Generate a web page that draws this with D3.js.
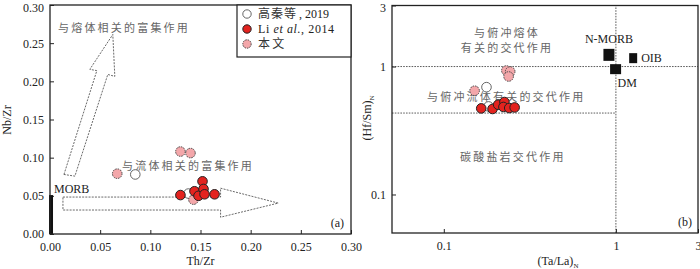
<!DOCTYPE html>
<html>
<head>
<meta charset="utf-8">
<script src="https://cdn.jsdelivr.net/npm/d3@7"></script>
<style>
  body { margin: 0; background: #fff; }
  svg { display: block; }
  .tick text { font-family: "Liberation Serif", serif; font-size: 12px; fill: #222; }
  .cn { font-family: "Noto Sans CJK SC", sans-serif; font-size: 11px; fill: #666; letter-spacing: 2.2px; }
  .lbl { font-family: "Liberation Serif", serif; font-size: 12px; fill: #222; }
</style>
</head>
<body>
<svg id="chart" width="700" height="269"></svg>
<script>
// ---- panel (a): Th/Zr vs Nb/Zr ----
const gaoA = [[0.085, 0.078], [0.138, 0.053]];
const liA = [[0.130, 0.051], [0.144, 0.056], [0.148, 0.050], [0.152, 0.069], [0.153, 0.059], [0.154, 0.052], [0.164, 0.052]];
const thisA = [[0.067, 0.079], [0.130, 0.108], [0.140, 0.106], [0.143, 0.045]];
const ticksA = [0, 0.05, 0.1, 0.15, 0.2, 0.25, 0.3];
const morbBar = [0, 0.003, 0, 0.051];
// arrow outlines in data units
const meltArrow = [[0.0139, 0.078], [0.0467, 0.214], [0.0397, 0.2157], [0.0626, 0.2614], [0.0646, 0.2065], [0.0576, 0.209], [0.0248, 0.0758]];
const fluidArrow = [[0.0129, 0.0484], [0.170, 0.0484], [0.170, 0.060], [0.2275, 0.0405], [0.170, 0.022], [0.170, 0.0314], [0.0129, 0.0314]];

// ---- panel (b): (Ta/La)N vs (Hf/Sm)N ----
const gaoB = [[0.177, 0.69], [0.182, 0.488]];
const liB = [[0.165, 0.471], [0.192, 0.466], [0.207, 0.503], [0.225, 0.528], [0.222, 0.483], [0.240, 0.474], [0.258, 0.479]];
const thisB = [[0.231, 0.931], [0.243, 0.914], [0.238, 0.836], [0.151, 0.647]];
const refNames = ["N-MORB", "OIB", "DM"];
const refB = [[0.911, 1.234], [1.26, 1.163], [0.996, 0.954]];
const ticksB = [0.1, 1, 3];
const fluidLimit = 0.433;

const svg = d3.select("#chart");
svg.append("rect").attr("width", 700).attr("height", 269).attr("fill", "#fff");

const xA = d3.scaleLinear().domain([0, 0.3]).range([50, 351]);
const yA = d3.scaleLinear().domain([0, 0.3]).range([234, 5]);
const xB = d3.scaleLog().domain([0.05, 3]).range([392, 698]);
const yB = d3.scaleLog().domain([0.05, 3]).range([233, 5.5]);

function frame(x, y) {
  const [x0, x1] = x.range(), [y0, y1] = y.range();
  svg.append("rect")
    .attr("x", x0).attr("y", y1)
    .attr("width", x1 - x0).attr("height", y0 - y1)
    .attr("fill", "none").attr("stroke", "#222").attr("stroke-width", 1.3);
}

function axes(x, y, ticks, fmtX, fmtY) {
  const gx = svg.append("g").attr("transform", `translate(0,${y.range()[0]})`)
    .call(d3.axisBottom(x).tickValues(ticks).tickFormat(fmtX).tickSizeInner(-4).tickSizeOuter(0).tickPadding(8));
  const gy = svg.append("g").attr("transform", `translate(${x.range()[0]},0)`)
    .call(d3.axisLeft(y).tickValues(ticks).tickFormat(fmtY).tickSizeInner(-4).tickSizeOuter(0).tickPadding(6));
  [gx, gy].forEach((g) => {
    g.select(".domain").remove();
    g.selectAll(".tick line").attr("stroke", "#222");
  });
  // keep the top label inside the picture
  gy.selectAll(".tick text").filter((d) => d === ticks[ticks.length - 1]).attr("dy", "0.5em");
}

function dots(data, x, y, kind) {
  const sel = svg.append("g").selectAll("circle").data(data).enter().append("circle")
    .attr("cx", (d) => x(d[0])).attr("cy", (d) => y(d[1])).attr("r", 4.8);
  styleDot(sel, kind);
}

function styleDot(sel, kind) {
  if (kind === "gao") sel.attr("fill", "#fff").attr("stroke", "#555").attr("stroke-width", 0.9);
  if (kind === "li") sel.attr("fill", "#e3231f").attr("stroke", "#222").attr("stroke-width", 1);
  if (kind === "this") sel.attr("fill", "#f3a7aa").attr("stroke", "#444").attr("stroke-width", 1).attr("stroke-dasharray", "1.5,1");
}

const line = d3.line();

// ===== panel (a) =====
axes(xA, yA, ticksA, d3.format(".2f"), d3.format(".2f"));

svg.append("path")
  .attr("d", line(meltArrow.map((d) => [xA(d[0]), yA(d[1])])) + "Z")
  .attr("fill", "none").attr("stroke", "#444").attr("stroke-width", 0.8).attr("stroke-dasharray", "2,1.2");
svg.append("path")
  .attr("d", line(fluidArrow.map((d) => [xA(d[0]), yA(d[1])])) + "Z")
  .attr("fill", "none").attr("stroke", "#444").attr("stroke-width", 0.8).attr("stroke-dasharray", "2,1.2");

svg.append("rect")
  .attr("x", xA(morbBar[0]) - 1).attr("y", yA(morbBar[3]))
  .attr("width", xA(morbBar[1]) - xA(morbBar[0]) + 1).attr("height", yA(morbBar[2]) - yA(morbBar[3]))
  .attr("fill", "#111");
svg.append("text").attr("class", "lbl").attr("x", 54).attr("y", 193).text("MORB");

svg.append("text").attr("class", "cn").attr("x", 58).attr("y", 32).text("与熔体相关的富集作用");
svg.append("text").attr("class", "cn").attr("x", 122).attr("y", 170).text("与流体相关的富集作用");

dots(gaoA, xA, yA, "gao");
dots(thisA, xA, yA, "this");
dots(liA, xA, yA, "li");

svg.append("text").attr("class", "lbl").attr("x", 344).attr("y", 227).attr("text-anchor", "end").text("(a)");

frame(xA, yA);

// legend
svg.append("rect").attr("x", 237).attr("y", 5).attr("width", 114).attr("height", 52)
  .attr("fill", "#fff").attr("stroke", "#222").attr("stroke-width", 1.2);
const legendItems = [
  { kind: "gao", y: 14 },
  { kind: "li", y: 29 },
  { kind: "this", y: 44 },
];
legendItems.forEach((it) => {
  styleDot(svg.append("circle").attr("cx", 247).attr("cy", it.y).attr("r", 4.2), it.kind);
});
svg.append("text").attr("class", "cn").style("fill", "#333").style("font-size", "12px").style("letter-spacing", "1px")
  .attr("x", 258).attr("y", 18).text("高秦等");
svg.append("text").attr("class", "lbl").attr("x", 299).attr("y", 18).text(", 2019");
const lt2 = svg.append("text").attr("class", "lbl").attr("x", 258).attr("y", 33).style("letter-spacing", "0.6px");
lt2.append("tspan").text("Li ");
lt2.append("tspan").style("font-style", "italic").text("et al.");
lt2.append("tspan").text(", 2014");
svg.append("text").attr("class", "cn").style("fill", "#333").style("font-size", "12px").attr("x", 258).attr("y", 48).text("本文");

svg.append("text").attr("class", "lbl").attr("x", (50 + 351) / 2).attr("y", 265).attr("text-anchor", "middle").text("Th/Zr");
svg.append("text").attr("class", "lbl").attr("transform", "translate(11,120) rotate(-90)").attr("text-anchor", "middle").text("Nb/Zr");

// ===== panel (b) =====
axes(xB, yB, ticksB, (d) => String(d), (d) => String(d));

const dash = { stroke: "#333", w: 0.8, da: "1.6,1.2" };
svg.append("line").attr("x1", xB(1)).attr("x2", xB(1)).attr("y1", yB.range()[0]).attr("y2", yB.range()[1])
  .attr("stroke", dash.stroke).attr("stroke-width", dash.w).attr("stroke-dasharray", dash.da);
svg.append("line").attr("x1", xB.range()[0]).attr("x2", xB.range()[1]).attr("y1", yB(1)).attr("y2", yB(1))
  .attr("stroke", dash.stroke).attr("stroke-width", dash.w).attr("stroke-dasharray", dash.da);
svg.append("line").attr("x1", xB.range()[0]).attr("x2", xB(1)).attr("y1", yB(fluidLimit)).attr("y2", yB(fluidLimit))
  .attr("stroke", dash.stroke).attr("stroke-width", dash.w).attr("stroke-dasharray", dash.da);

svg.append("text").attr("class", "cn").attr("x", 507).attr("y", 37).attr("text-anchor", "middle").text("与俯冲熔体");
svg.append("text").attr("class", "cn").attr("x", 507).attr("y", 52).attr("text-anchor", "middle").text("有关的交代作用");
svg.append("text").attr("class", "cn").attr("x", 427).attr("y", 101).text("与俯冲流体有关的交代作用");
svg.append("text").attr("class", "cn").attr("x", 460).attr("y", 161).text("碳酸盐岩交代作用");

dots(gaoB, xB, yB, "gao");
dots(thisB, xB, yB, "this");
dots(liB, xB, yB, "li");

const sq = [[11, 12], [8, 10], [11, 10]];
svg.append("g").selectAll("rect").data(refB).enter().append("rect")
  .attr("x", (d, i) => xB(d[0]) - sq[i][0] / 2).attr("y", (d, i) => yB(d[1]) - sq[i][1] / 2)
  .attr("width", (d, i) => sq[i][0]).attr("height", (d, i) => sq[i][1]).attr("fill", "#111");
const refLbl = [[0, -12, "middle"], [8, 4, "start"], [2, 18, "start"]];
svg.append("g").selectAll("text").data(refB).enter().append("text").attr("class", "lbl")
  .attr("x", (d, i) => xB(d[0]) + refLbl[i][0]).attr("y", (d, i) => yB(d[1]) + refLbl[i][1])
  .attr("text-anchor", (d, i) => refLbl[i][2]).text((d, i) => refNames[i]);

svg.append("text").attr("class", "lbl").attr("x", 692).attr("y", 226).attr("text-anchor", "end").text("(b)");

frame(xB, yB);

const xl = svg.append("text").attr("class", "lbl").attr("x", 558).attr("y", 265).attr("text-anchor", "middle");
xl.append("tspan").text("(Ta/La)");
xl.append("tspan").attr("dy", 3).style("font-size", "7px").text("N");
const yl = svg.append("text").attr("class", "lbl").attr("transform", "translate(371,118) rotate(-90)").attr("text-anchor", "middle");
yl.append("tspan").text("(Hf/Sm)");
yl.append("tspan").attr("dy", 3).style("font-size", "7px").text("N");
</script>
</body>
</html>
